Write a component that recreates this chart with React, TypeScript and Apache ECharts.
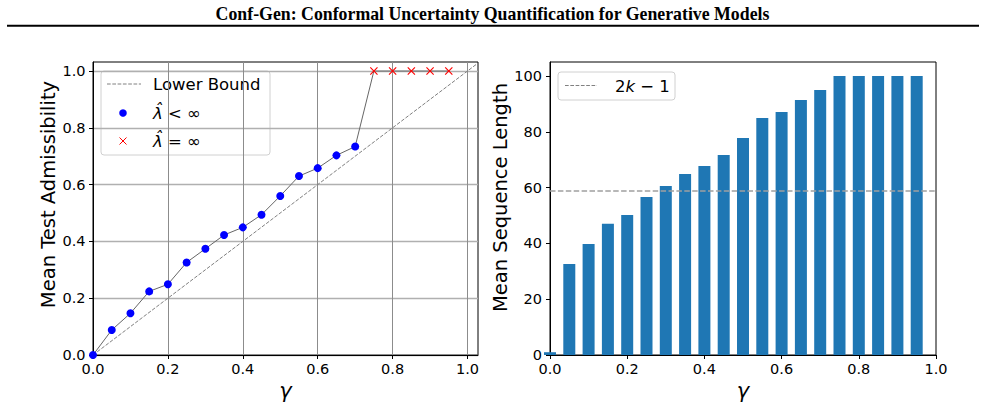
import React, { useEffect, useRef } from "react";
import * as echarts from "echarts";

const TITLE = "Conf-Gen: Conformal Uncertainty Quantification for Generative Models";

// gamma grid
const gammaValues = [0, 0.05, 0.1, 0.15, 0.2, 0.25, 0.3, 0.35, 0.4, 0.45, 0.5, 0.55, 0.6, 0.65, 0.7, 0.75, 0.8, 0.85, 0.9, 0.95];
// mean test admissibility
const admissibility = [0.0, 0.088, 0.147, 0.224, 0.249, 0.326, 0.374, 0.4225, 0.4495, 0.494, 0.56, 0.63, 0.658, 0.703, 0.734, 1.0, 1.0, 1.0, 1.0, 1.0];
// whether lambda-hat is finite
const lambdaFinite = [true, true, true, true, true, true, true, true, true, true, true, true, true, true, true, false, false, false, false, false];
// mean sequence length
const seqLength = [1, 32.6, 39.8, 47.0, 50.2, 56.6, 60.6, 64.9, 67.7, 71.7, 77.8, 84.9, 87.1, 91.4, 95.0, 100, 100, 100, 100, 100];
const twoKMinus1 = [58.8, 58.8];
const twoKMinus1X = [0, 1];
const lowerBoundX = [0, 1.1];

const leftTicks = [0, 0.2, 0.4, 0.6, 0.8, 1.0];
const rightXTicks = [0, 0.2, 0.4, 0.6, 0.8, 1.0];
const rightYTicks = [0, 20, 40, 60, 80, 100];

const FONT = "DejaVu Sans";

export default function App() {
  const ref = useRef<HTMLDivElement>(null);
  useEffect(() => {
    if (!ref.current) return;
    const chart = echarts.init(ref.current, null, { renderer: "svg" });

    const tickLabel = (extra: any = {}) => ({
      fontFamily: FONT,
      fontSize: 14.5,
      color: "#000",
      ...extra,
    });
    const nameStyle = (italic = false, shift = 0) => ({
      fontFamily: FONT,
      fontSize: italic ? 21 : 19.5,
      fontStyle: italic ? "italic" : "normal",
      color: "#000",
      padding: [0, 0, 0, shift],
    });
    const axisLine = { show: true, onZero: false, lineStyle: { color: "#000", width: 1 } };
    const tick = (vals: number[]) => ({ show: true, inside: false, length: 4, lineStyle: { color: "#000", width: 1 }, customValues: vals });

    const option: any = {
      animation: false,
      backgroundColor: "#fff",
      grid: [
        { left: 93, top: 62, width: 385, height: 293, show: true, borderColor: "#000", borderWidth: 1, backgroundColor: "transparent", containLabel: false },
        { left: 550, top: 62, width: 386, height: 293, show: true, borderColor: "#000", borderWidth: 1, backgroundColor: "transparent", containLabel: false },
      ],
      xAxis: [
        {
          gridIndex: 0, type: "value", min: 0, max: 1.028, interval: 0.2,
          axisLine, axisTick: tick(leftTicks),
          axisLabel: { ...tickLabel({ margin: 6 }), customValues: leftTicks, formatter: (v: number) => v.toFixed(1) },
          splitLine: { show: true, lineStyle: { color: "#8c8c8c", width: 1 } },
          name: "γ", nameLocation: "middle", nameGap: 25, nameTextStyle: nameStyle(true),
        },
        {
          gridIndex: 1, type: "value", min: 0, max: 1, interval: 0.2,
          axisLine, axisTick: tick(rightXTicks),
          axisLabel: { ...tickLabel({ margin: 6 }), customValues: rightXTicks, formatter: (v: number) => v.toFixed(1) },
          splitLine: { show: false },
          name: "γ", nameLocation: "middle", nameGap: 25, nameTextStyle: nameStyle(true),
        },
      ],
      yAxis: [
        {
          gridIndex: 0, type: "value", min: 0, max: 1.0317, interval: 0.2,
          axisLine, axisTick: tick(leftTicks),
          axisLabel: { ...tickLabel({ margin: 7.5 }), customValues: leftTicks, formatter: (v: number) => v.toFixed(1) },
          splitLine: { show: true, lineStyle: { color: "#b0b0b0", width: 1.3 } },
          name: "Mean Test Admissibility", nameLocation: "middle", nameGap: 35, nameTextStyle: nameStyle(false, 28),
        },
        {
          gridIndex: 1, type: "value", min: 0, max: 105, interval: 20,
          axisLine, axisTick: tick(rightYTicks),
          axisLabel: { ...tickLabel({ margin: 8 }), customValues: rightYTicks, formatter: (v: number) => String(Math.round(v)) },
          splitLine: { show: false },
          name: "Mean Sequence Length", nameLocation: "middle", nameGap: 35, nameTextStyle: nameStyle(false, 22),
        },
      ],
      series: [
        {
          name: "Lower Bound", type: "line", xAxisIndex: 0, yAxisIndex: 0,
          data: lowerBoundX.map((x) => [x, x]), symbol: "none", clip: true,
          lineStyle: { color: "#808080", width: 1, type: [3.7, 1.6] }, z: 2,
        },
        {
          name: "path", type: "line", xAxisIndex: 0, yAxisIndex: 0,
          data: gammaValues.map((g, i) => [g, admissibility[i]]), symbol: "none",
          lineStyle: { color: "#666", width: 1 }, z: 3,
        },
        {
          name: "finite", type: "scatter", xAxisIndex: 0, yAxisIndex: 0,
          data: gammaValues.map((g, i) => [g, admissibility[i]]).filter((_, i) => lambdaFinite[i]),
          symbol: "circle", symbolSize: 8, itemStyle: { color: "#0000ff", opacity: 1 }, z: 4,
        },
        {
          name: "infinite", type: "scatter", xAxisIndex: 0, yAxisIndex: 0,
          data: gammaValues.map((g, i) => [g, admissibility[i]]).filter((_, i) => !lambdaFinite[i]),
          symbol: "path://M0,1 L1,0 L5,4 L9,0 L10,1 L6,5 L10,9 L9,10 L5,6 L1,10 L0,9 L4,5 Z",
          symbolSize: 8, itemStyle: { color: "#ff0000", opacity: 1 }, z: 4,
        },
        {
          name: "length", type: "bar", xAxisIndex: 1, yAxisIndex: 1,
          data: gammaValues.map((g, i) => [g, seqLength[i]]), barWidth: 12,
          itemStyle: { color: "#1f77b4" }, z: 2,
        },
        {
          name: "2k-1", type: "line", xAxisIndex: 1, yAxisIndex: 1,
          data: twoKMinus1X.map((x, i) => [x, twoKMinus1[i]]), symbol: "none",
          lineStyle: { color: "#a0a0a0", width: 1.5, type: [5.5, 2.4] }, z: 5,
        },
      ],
      graphic: [
        {
          type: "text", x: 492.5, y: 14, z: 100,
          style: { text: TITLE, font: 'bold 17.8px "Liberation Serif"', fill: "#000", align: "center", verticalAlign: "middle" },
        },
        { type: "line", z: 100, shape: { x1: 7, y1: 25.7, x2: 979, y2: 25.7 }, style: { stroke: "#000", lineWidth: 2 } },
        // left legend
        {
          type: "group", z: 100,
          children: [
            { type: "rect", shape: { x: 101, y: 71, width: 169, height: 84, r: 3 }, style: { fill: "rgba(255,255,255,0.8)", stroke: "#d0d0d0", lineWidth: 1 } },
            { type: "line", shape: { x1: 107, y1: 84, x2: 141, y2: 84 }, style: { stroke: "#808080", lineWidth: 1, lineDash: [3.7, 1.6] } },
            { type: "text", x: 153, y: 84, style: { text: "Lower Bound", font: `16.5px "${FONT}"`, fill: "#000", verticalAlign: "middle" } },
            { type: "circle", shape: { cx: 123, cy: 113, r: 3.8 }, style: { fill: "#0000ff" } },
            {
              type: "text", x: 153, y: 113,
              style: {
                text: "{i|λ̂} < ∞", verticalAlign: "middle", fill: "#000", font: `16.5px "${FONT}"`,
                rich: { i: { fontFamily: FONT, fontSize: 16.5, fontStyle: "italic", fill: "#000" } },
              },
            },
            { type: "line", shape: { x1: 119.5, y1: 137.5, x2: 126.5, y2: 144.5 }, style: { stroke: "#ff0000", lineWidth: 1 } },
            { type: "line", shape: { x1: 126.5, y1: 137.5, x2: 119.5, y2: 144.5 }, style: { stroke: "#ff0000", lineWidth: 1 } },
            {
              type: "text", x: 153, y: 141,
              style: {
                text: "{i|λ̂} = ∞", verticalAlign: "middle", fill: "#000", font: `16.5px "${FONT}"`,
                rich: { i: { fontFamily: FONT, fontSize: 16.5, fontStyle: "italic", fill: "#000" } },
              },
            },
          ],
        },
        // right legend
        {
          type: "group", z: 100,
          children: [
            { type: "rect", shape: { x: 558, y: 72, width: 117, height: 28, r: 3 }, style: { fill: "rgba(255,255,255,0.8)", stroke: "#d0d0d0", lineWidth: 1 } },
            { type: "line", shape: { x1: 565, y1: 85.5, x2: 597, y2: 85.5 }, style: { stroke: "#808080", lineWidth: 1, lineDash: [3.7, 1.6] } },
            {
              type: "text", x: 615, y: 86,
              style: {
                text: "2{i|k} − 1", verticalAlign: "middle", fill: "#000", font: `16.5px "${FONT}"`,
                rich: { i: { fontFamily: FONT, fontSize: 16.5, fontStyle: "italic", fill: "#000" } },
              },
            },
          ],
        },
      ],
    };
    chart.setOption(option);
    return () => chart.dispose();
  }, []);
  return <div ref={ref} style={{ position: "absolute", left: 0, top: 0, width: 985, height: 407 }} />;
}
